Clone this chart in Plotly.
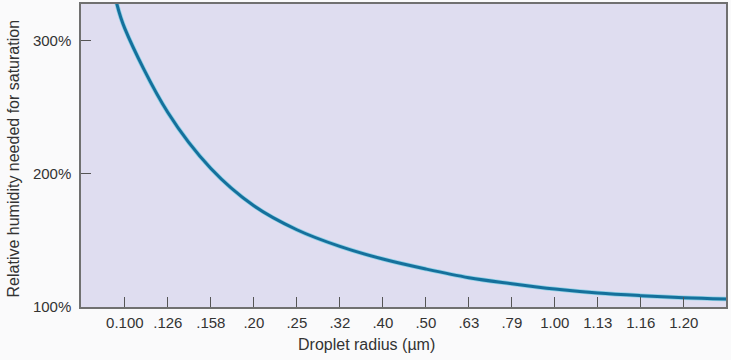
import plotly.graph_objects as go

# Tick labels (droplet radius, µm) at equally spaced positions
radius_labels = ["0.100", ".126", ".158", ".20", ".25", ".32", ".40", ".50",
                 ".63", ".79", "1.00", "1.13", "1.16", "1.20"]
tick_positions = list(range(len(radius_labels)))

# Curve (position index along x axis, relative humidity %)
curve_pos = [-0.19, 0, 1, 2, 3, 4, 5, 6, 7, 8, 9, 10, 11, 12, 13, 14]
curve_rh = [328, 309, 246, 204, 176, 158, 145.5, 136, 128.5, 122, 117.5,
            113.5, 110.5, 108.5, 107, 106]

y_ticks = [100, 200, 300]
y_tick_labels = [f"{v}%" for v in y_ticks]

fig = go.Figure()
fig.add_trace(go.Scatter(
    x=curve_pos, y=curve_rh, mode="lines",
    line=dict(color="#8fd0e6", width=4.5, shape="spline", smoothing=1.0),
    hoverinfo="skip", showlegend=False))
fig.add_trace(go.Scatter(
    x=curve_pos, y=curve_rh, mode="lines",
    line=dict(color="#15709c", width=3, shape="spline", smoothing=1.0),
    showlegend=False))

font_family = "Liberation Sans, Arial, sans-serif"
fig.update_layout(
    width=731, height=360,
    margin=dict(l=81, r=5, t=2, b=53),
    paper_bgcolor="#fafafb",
    plot_bgcolor="#dfddf0",
    font=dict(family=font_family, size=15, color="#333333"),
    showlegend=False,
)
fig.update_xaxes(
    range=[-1.02, 13.98], tickvals=tick_positions, ticktext=radius_labels,
    ticks="inside", ticklen=10, tickwidth=1.2, tickcolor="#555555",
    showgrid=False, zeroline=False, showline=True, linecolor="#707070",
    linewidth=1.5, mirror=True, ticklabelstandoff=1,
    tickfont=dict(size=15, color="#333333"),
)
fig.update_yaxes(
    range=[100, 327.5], tickvals=y_ticks, ticktext=y_tick_labels,
    ticks="inside", ticklen=10, tickwidth=1.2, tickcolor="#555555",
    showgrid=False, zeroline=False, showline=True, linecolor="#707070",
    linewidth=1.5, mirror=True, ticklabelstandoff=5,
    tickfont=dict(size=15, color="#333333"),
)
fig.add_annotation(
    text="Relative humidity needed for saturation", textangle=-90,
    xref="paper", yref="paper", x=-0.104, y=0.49, xanchor="center",
    yanchor="middle", showarrow=False, font=dict(size=16, color="#333333"))
fig.add_annotation(
    text="Droplet radius (µm)",
    xref="paper", yref="paper", x=0.443, y=-0.125, xanchor="center",
    yanchor="middle", showarrow=False, font=dict(size=16, color="#333333"))

fig.write_html(
    "out.html",
    config={"displayModeBar": False},
    post_script="document.body.style.margin='0';document.body.style.overflow='hidden';",
)
